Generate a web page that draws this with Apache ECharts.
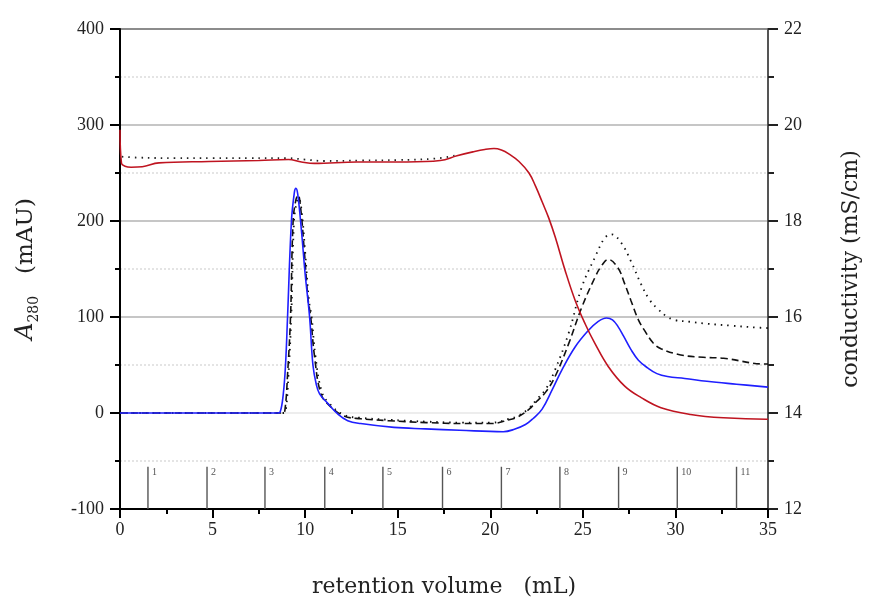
<!DOCTYPE html>
<html>
<head>
<meta charset="utf-8">
<script src="https://cdn.jsdelivr.net/npm/echarts@6/dist/echarts.min.js"></script>
<style>
  html, body { margin: 0; padding: 0; background: #fff; width: 870px; height: 603px; overflow: hidden; }
  #chart { width: 870px; height: 603px; }
</style>
</head>
<body>
<div id="chart"></div>
<script>
// A280 absorbance traces [retention volume (mL), A280 (mAU)]
const a280Run1 = [
  [0, 0], [8.5, 0], [8.65, 1], [8.82, 20], [8.94, 50], [9.05, 100], [9.26, 200], [9.42, 230],
  [9.5, 234], [9.6, 228], [9.8, 190], [10.0, 145], [10.24, 100], [10.42, 50], [10.6, 30],
  [10.78, 20], [11.22, 10], [11.76, -1], [12.3, -8], [13.0, -11], [14.8, -15], [16.5, -16.5],
  [18.35, -18], [20.7, -19.5], [21.3, -17], [21.9, -12], [22.3, -6], [22.8, 4], [23.34, 24],
  [23.87, 45], [24.59, 69], [25.3, 86], [25.8, 95], [26.28, 99], [26.6, 97], [26.9, 90],
  [27.2, 80], [27.6, 66], [28.0, 55], [28.5, 47], [29.0, 41], [29.57, 38], [30.5, 36],
  [31.7, 33], [33.3, 30], [35, 27]
];
const a280Run2 = [
  [0, 0], [8.8, 0], [8.92, 5], [9.05, 40], [9.21, 100], [9.35, 200], [9.5, 222], [9.62, 227],
  [9.75, 215], [9.95, 170], [10.15, 120], [10.3, 100], [10.5, 60], [10.85, 20], [11.3, 8],
  [12.1, -3], [13, -6], [14.5, -8], [16.57, -10], [18.5, -11], [20.1, -11], [21.02, -7],
  [21.5, -4], [22.1, 4], [22.5, 12], [23.0, 22], [23.5, 38], [24.23, 72], [24.94, 110],
  [25.65, 141], [26.0, 153], [26.37, 160], [26.9, 151], [27.25, 135], [27.6, 117], [28.0, 97],
  [28.33, 86], [28.8, 73], [29.22, 67], [30.29, 60.5], [31.5, 58], [32.6, 57], [34.9, 51], [35, 51]
];
const a280Run3 = [
  [0, 0], [8.85, 0], [8.97, 5], [9.1, 40], [9.25, 100], [9.4, 200], [9.55, 220], [9.65, 224],
  [9.8, 212], [10.0, 168], [10.2, 118], [10.35, 100], [10.55, 60], [10.9, 22], [11.3, 10],
  [12.1, -2], [13, -5], [14.5, -7], [16.57, -9], [18.5, -10], [20.1, -10], [21.02, -6],
  [21.5, -3], [22.1, 5], [22.5, 14], [23.0, 25], [23.5, 45], [24.23, 83], [24.94, 131],
  [25.65, 162], [26.19, 182.5], [26.55, 186], [27.08, 177], [27.6, 158], [28.15, 134],
  [28.6, 118], [29.04, 108.6], [29.5, 101], [29.93, 97], [30.8, 95], [31.7, 93], [33, 91],
  [34.4, 89], [35, 88.5]
];

// Conductivity traces [retention volume (mL), mS/cm]
const conductivityRun1 = [
  [0, 19.9], [0.08, 19.2], [0.27, 19.14], [0.6, 19.12], [1.2, 19.13], [2.1, 19.21], [4.8, 19.24],
  [7.5, 19.26], [9.1, 19.28], [9.8, 19.23], [10.5, 19.2], [12.8, 19.23], [15.5, 19.23],
  [17.3, 19.26], [18.2, 19.36], [19.06, 19.44], [19.7, 19.49], [20.2, 19.51], [20.6, 19.48],
  [21.0, 19.4], [21.55, 19.24], [22.09, 19.0], [22.45, 18.72], [22.8, 18.4], [23.16, 18.06],
  [23.52, 17.65], [24.05, 16.96], [24.59, 16.34], [25.12, 15.86], [25.65, 15.45],
  [26.37, 14.97], [27.26, 14.56], [28.15, 14.32], [29.22, 14.11], [30.82, 13.97],
  [32.6, 13.9], [34.9, 13.87], [35, 13.87]
];
const conductivityRun3 = [
  [0.1, 19.34], [1, 19.32], [3, 19.31], [5, 19.31], [7, 19.31], [9, 19.31], [10, 19.28],
  [11, 19.25], [13, 19.26], [15, 19.27], [17, 19.3], [18.2, 19.37]
];

// Collected fractions: start volume (mL) and fraction number
const fractionStarts = [1.51, 4.70, 7.83, 11.06, 14.2, 17.42, 20.6, 23.76, 26.93, 30.1, 33.3];
const fractionLabels = ['1', '2', '3', '4', '5', '6', '7', '8', '9', '10', '11'];

const FONT = '"Liberation Serif", "DejaVu Serif", serif';
const TITLE_FONT = '"DejaVu Serif", serif';

const chart = echarts.init(document.getElementById('chart'), null, { renderer: 'canvas', width: 870, height: 603 });

const lineBase = {
  type: 'line',
  showSymbol: false,
  symbol: 'none',
  smooth: 0.4,
  animation: false
};

chart.setOption({
  backgroundColor: '#fff',
  animation: false,
  grid: { left: 120, right: 96, top: 29, bottom: 88, containLabel: false },
  xAxis: {
    type: 'value',
    min: 0, max: 35, interval: 5,
    axisLine: { show: true, onZero: false, lineStyle: { color: '#000', width: 2 } },
    axisTick: { show: true, inside: false, length: 9, lineStyle: { color: '#000', width: 2 } },
    minorTick: { show: true, splitNumber: 2, length: 5, lineStyle: { color: '#000', width: 2 } },
    splitLine: { show: false },
    axisLabel: { color: '#222', fontFamily: FONT, fontSize: 18, margin: 12 },
    name: 'retention volume   (mL)',
    nameLocation: 'middle',
    nameGap: 78,
    nameTextStyle: { color: '#222', fontFamily: TITLE_FONT, fontSize: 22, align: 'center', verticalAlign: 'middle' }
  },
  yAxis: [
    {
      type: 'value',
      position: 'left',
      min: -100, max: 400, interval: 100,
      axisLine: { show: true, onZero: false, lineStyle: { color: '#000', width: 2 } },
      axisTick: { show: true, inside: false, length: 10, lineStyle: { color: '#000', width: 2 } },
      minorTick: { show: true, splitNumber: 2, length: 5, lineStyle: { color: '#000', width: 2 } },
      splitLine: {
        show: true,
        lineStyle: { color: ['#000', '#ededed', '#c6c6c6', '#c6c6c6', '#c6c6c6', '#8c8c8c'], width: 2 }
      },
      minorSplitLine: { show: true, lineStyle: { color: '#dcdcdc', width: 1.5, type: [2, 2] } },
      axisLabel: { color: '#222', fontFamily: FONT, fontSize: 18, margin: 16 },
      name: '{it|A}{sub|280}{reg|   (mAU)}',
      nameLocation: 'middle',
      nameRotate: 90,
      nameGap: 94,
      nameTextStyle: {
        color: '#222',
        fontFamily: TITLE_FONT,
        align: 'center',
        verticalAlign: 'middle',
        rich: {
          it: { fontFamily: TITLE_FONT, fontSize: 24, fontStyle: 'italic', lineHeight: 30, verticalAlign: 'middle', color: '#222' },
          sub: { fontFamily: TITLE_FONT, fontSize: 14, lineHeight: 30, verticalAlign: 'bottom', color: '#222' },
          reg: { fontFamily: TITLE_FONT, fontSize: 23, lineHeight: 30, verticalAlign: 'middle', color: '#222' }
        }
      }
    },
    {
      type: 'value',
      position: 'right',
      min: 12, max: 22, interval: 2,
      axisLine: { show: true, onZero: false, lineStyle: { color: '#555', width: 2 } },
      axisTick: { show: true, inside: false, length: 10, lineStyle: { color: '#222', width: 2 } },
      minorTick: { show: true, splitNumber: 2, length: 6, lineStyle: { color: '#222', width: 2 } },
      splitLine: { show: false },
      axisLabel: { color: '#222', fontFamily: FONT, fontSize: 18, margin: 16 },
      name: 'conductivity (mS/cm)',
      nameLocation: 'middle',
      nameRotate: 90,
      nameGap: 83,
      nameTextStyle: { color: '#222', fontFamily: TITLE_FONT, fontSize: 22, align: 'center', verticalAlign: 'middle' }
    }
  ],
  series: [
    {
      type: 'custom',
      name: 'fractions',
      xAxisIndex: 0,
      yAxisIndex: 0,
      silent: true,
      data: fractionStarts.map((v, i) => [v, fractionLabels[i]]),
      renderItem: function (params, api) {
        const x = api.value(0);
        const bottom = api.coord([x, -100]);
        const top = api.coord([x, -56]);
        return {
          type: 'group',
          children: [
            {
              type: 'line',
              shape: { x1: bottom[0], y1: bottom[1], x2: top[0], y2: top[1] },
              style: { stroke: '#555', lineWidth: 1.4 }
            },
            {
              type: 'text',
              x: top[0] + 4,
              y: top[1] + 1,
              style: {
                text: fractionLabels[params.dataIndex],
                fill: '#555',
                font: '10px "Liberation Serif", serif',
                textAlign: 'left',
                textVerticalAlign: 'top'
              }
            }
          ]
        };
      }
    },
    Object.assign({}, lineBase, {
      name: 'A280 run 3',
      data: a280Run3,
      yAxisIndex: 0,
      z: 2,
      lineStyle: { color: '#111', width: 1.8, type: [1.5, 5] }
    }),
    Object.assign({}, lineBase, {
      name: 'A280 run 2',
      data: a280Run2,
      yAxisIndex: 0,
      z: 3,
      lineStyle: { color: '#111', width: 1.6, type: [7, 4] }
    }),
    Object.assign({}, lineBase, {
      name: 'A280 run 1',
      data: a280Run1,
      yAxisIndex: 0,
      z: 4,
      lineStyle: { color: '#1f1fff', width: 1.6 }
    }),
    Object.assign({}, lineBase, {
      name: 'conductivity run 3',
      data: conductivityRun3,
      yAxisIndex: 1,
      z: 4,
      lineStyle: { color: '#222', width: 1.8, type: [1.5, 5] }
    }),
    Object.assign({}, lineBase, {
      name: 'conductivity run 1',
      data: conductivityRun1,
      yAxisIndex: 1,
      z: 5,
      lineStyle: { color: '#bf1420', width: 1.6 }
    })
  ]
});
</script>
</body>
</html>
